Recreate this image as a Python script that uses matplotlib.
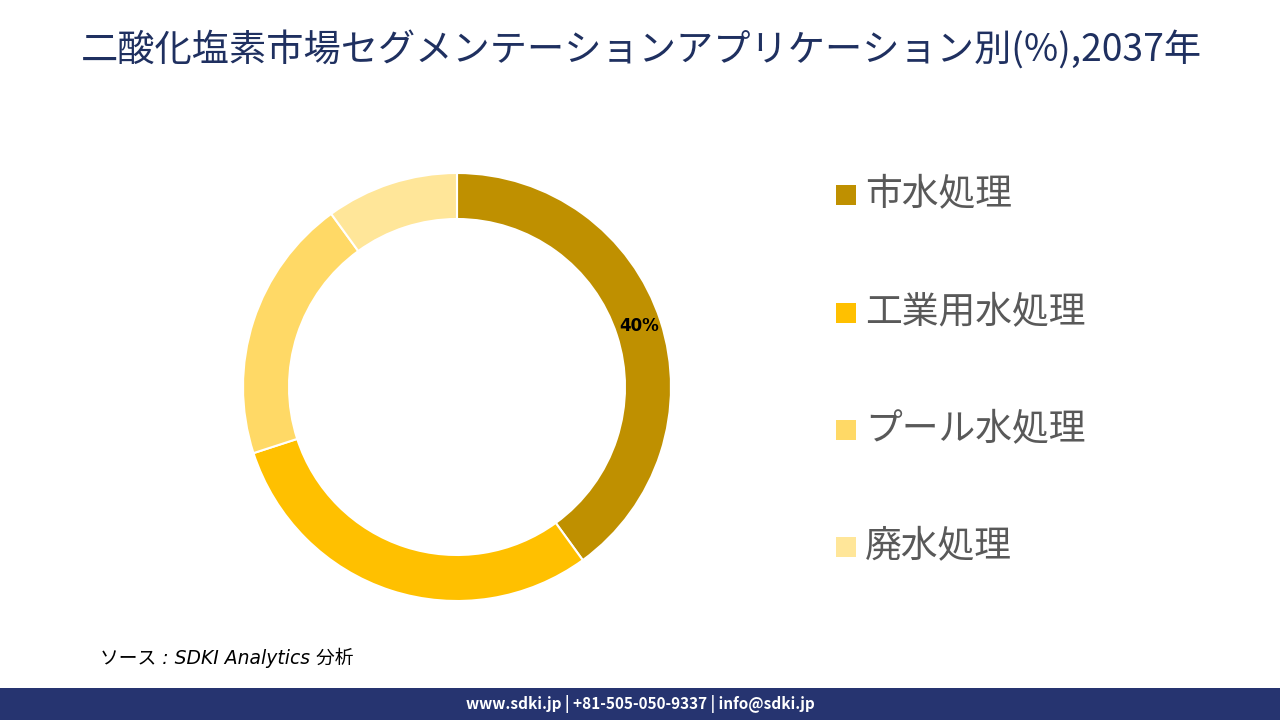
import numpy as np
import matplotlib.pyplot as plt
from matplotlib.patches import Rectangle

plt.rcParams['font.family'] = ['Noto Sans CJK JP', 'DejaVu Sans']

title = '二酸化塩素市場セグメンテーションアプリケーション別(%),2037年'
categories = ['市水処理', '工業用水処理', 'プール水処理', '廃水処理']
shares = [40, 30, 20, 10]
colors = ['#BF9000', '#FFC000', '#FFD966', '#FFE699']
shown_labels = ['40%', '', '', '']

fig = plt.figure(figsize=(12.8, 7.2), dpi=100)
W, H = 1280, 720

# donut
cx, cy, r = 457, 387, 214
ax = fig.add_axes([(cx - r) / W, (H - cy - r) / H, 2 * r / W, 2 * r / H])
wedges, _ = ax.pie(shares, colors=colors, startangle=90, counterclock=False,
                   radius=1, wedgeprops=dict(width=0.215, edgecolor='white', linewidth=1.5))
for w, lab in zip(wedges, shown_labels):
    if not lab:
        continue
    ang = np.deg2rad((w.theta1 + w.theta2) / 2)
    ax.text(0.893 * np.cos(ang), 0.893 * np.sin(ang) + 0.01, lab, ha='center', va='center',
            fontsize=12, fontweight='bold', color='black', family=['DejaVu Sans'])
ax.set_xlim(-1, 1)
ax.set_ylim(-1, 1)
ax.set_aspect('equal')
ax.axis('off')

# legend
rows_y = [195, 313, 430, 547]
for cat, col, y in zip(categories, colors, rows_y):
    fig.patches.append(Rectangle((836 / W, (H - y - 10) / H), 20 / W, 20 / H,
                                 transform=fig.transFigure, facecolor=col, edgecolor='none'))
    fig.text(865 / W, (H - y) / H, cat, fontsize=26.5, color='#595959', va='center', ha='left')

# title
fig.text(641 / W, (H - 50) / H, title, fontsize=26.8, color='#1F3060', ha='center', va='center')

# source
fig.text(100 / W, (H - 658) / H, 'ソース : SDKI Analytics 分析', fontsize=13.5, style='italic',
         color='black', ha='left', va='center', family=['DejaVu Sans', 'Noto Sans CJK JP'])

# footer
fig.patches.append(Rectangle((0, 0), 1, 32 / H, transform=fig.transFigure,
                             facecolor='#263470', edgecolor='none'))
fig.text(0.5, 16 / H, 'www.sdki.jp | +81-505-050-9337 | info@sdki.jp', fontsize=11,
         fontweight='bold', color='white', ha='center', va='center')

fig.savefig('out.png', dpi=100)
